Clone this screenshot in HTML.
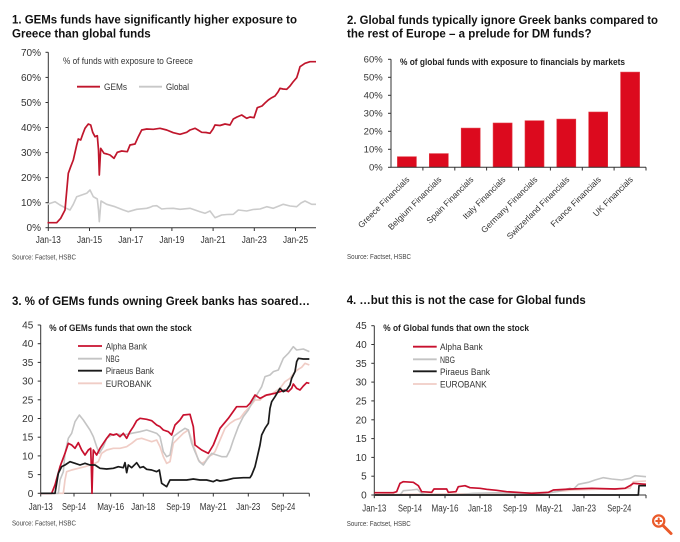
<!DOCTYPE html>
<html><head><meta charset="utf-8"><style>
html,body{margin:0;padding:0;background:#fff;}
svg{display:block;font-family:"Liberation Sans",Arial,sans-serif;}
</style></head><body>
<svg width="680" height="542" viewBox="0 0 680 542" xmlns="http://www.w3.org/2000/svg">
<rect width="680" height="542" fill="#fff"/>

<!-- ============ CHART 1 ============ -->
<g font-weight="bold" font-size="11.5" fill="#111">
<text x="12" y="23.3" textLength="285" lengthAdjust="spacingAndGlyphs">1. GEMs funds have significantly higher exposure to</text>
<text x="12" y="37.3" textLength="138.7" lengthAdjust="spacingAndGlyphs">Greece than global funds</text>
</g>
<g stroke="#333" stroke-width="1" fill="none">
<line x1="48.3" y1="52.3" x2="48.3" y2="228"/>
<line x1="48.3" y1="227.7" x2="316" y2="227.7"/>
<line x1="45.5" y1="52.3" x2="48.3" y2="52.3"/>
<line x1="45.5" y1="77.4" x2="48.3" y2="77.4"/>
<line x1="45.5" y1="102.5" x2="48.3" y2="102.5"/>
<line x1="45.5" y1="127.5" x2="48.3" y2="127.5"/>
<line x1="45.5" y1="152.6" x2="48.3" y2="152.6"/>
<line x1="45.5" y1="177.6" x2="48.3" y2="177.6"/>
<line x1="45.5" y1="202.7" x2="48.3" y2="202.7"/>
<line x1="45.5" y1="227.7" x2="48.3" y2="227.7"/>
<line x1="48.3" y1="227.7" x2="48.3" y2="231"/>
<line x1="89.5" y1="227.7" x2="89.5" y2="231"/>
<line x1="130.7" y1="227.7" x2="130.7" y2="231"/>
<line x1="171.9" y1="227.7" x2="171.9" y2="231"/>
<line x1="213.1" y1="227.7" x2="213.1" y2="231"/>
<line x1="254.3" y1="227.7" x2="254.3" y2="231"/>
<line x1="295.5" y1="227.7" x2="295.5" y2="231"/>
</g>
<g font-size="10" fill="#333" text-anchor="end">
<text x="41" y="55.8">70%</text>
<text x="41" y="80.9">60%</text>
<text x="41" y="106">50%</text>
<text x="41" y="131">40%</text>
<text x="41" y="156.1">30%</text>
<text x="41" y="181.1">20%</text>
<text x="41" y="206.2">10%</text>
<text x="41" y="231.2">0%</text>
</g>
<g font-size="10" fill="#333" text-anchor="middle">
<text x="48.3" y="242.8" textLength="25" lengthAdjust="spacingAndGlyphs">Jan-13</text>
<text x="89.5" y="242.8" textLength="25" lengthAdjust="spacingAndGlyphs">Jan-15</text>
<text x="130.7" y="242.8" textLength="25" lengthAdjust="spacingAndGlyphs">Jan-17</text>
<text x="171.9" y="242.8" textLength="25" lengthAdjust="spacingAndGlyphs">Jan-19</text>
<text x="213.1" y="242.8" textLength="25" lengthAdjust="spacingAndGlyphs">Jan-21</text>
<text x="254.3" y="242.8" textLength="25" lengthAdjust="spacingAndGlyphs">Jan-23</text>
<text x="295.5" y="242.8" textLength="25" lengthAdjust="spacingAndGlyphs">Jan-25</text>
</g>
<text x="63" y="64" font-size="9.5" fill="#333" textLength="130" lengthAdjust="spacingAndGlyphs">% of funds with exposure to Greece</text>
<line x1="77" y1="86.7" x2="100" y2="86.7" stroke="#c0162c" stroke-width="1.8"/>
<text x="104" y="90" font-size="9.5" fill="#333" textLength="23" lengthAdjust="spacingAndGlyphs">GEMs</text>
<line x1="139" y1="86.7" x2="162" y2="86.7" stroke="#c8c8c8" stroke-width="1.8"/>
<text x="166" y="90" font-size="9.5" fill="#333" textLength="23" lengthAdjust="spacingAndGlyphs">Global</text>
<polyline fill="none" stroke="#cbcbcb" stroke-width="1.6" stroke-linejoin="round" points="47.5,204.3 55,201.7 60,205 65,207.7 70,210 73.3,204.3 76.7,196.7 81.7,195 86.7,193.3 90,190 93.3,196.7 97.3,199 98.5,210 99.3,221.7 101,201 106.7,204.3 115,206.7 123.3,210 128.3,211.7 136.7,209.3 146.7,208.3 150,207.3 153,206 156.7,205.7 161.7,209 166.7,208.5 173.3,208.3 180,209.3 190,208.3 200,211.7 205,213.3 210,211 215,217.7 221.7,215 227,214.5 233.3,214.3 238.3,210 246.7,211 253,209.5 260,209 266.7,206.7 273.3,208.3 283.3,204.3 290,206 296.7,206.7 301,203 305,201 311.7,204.3 316,204.3"/>
<polyline fill="none" stroke="#c0162c" stroke-width="1.7" stroke-linejoin="round" points="47.5,222.7 56.7,222.7 60.7,218.3 65,210 68.3,173.3 70.7,166.7 73.3,160 76.7,145 78.3,139 80.7,140 82.7,134.3 85,128.3 88.3,124 90.7,125 92.7,132.3 95,136.7 97.3,135.7 98.5,150 99.3,175 100.7,148.3 104,153.3 107,154 110,155 114,158.3 117.3,152.3 121.7,151 127.3,151.7 130,145 135,144 138.3,136.7 141.7,130 146.7,129 153.3,129.3 160,128.3 166.7,130 173.3,132.7 180,134.3 186.7,132.3 190,130 195,128.3 198,130 201.7,132.3 206,132.5 210,133.3 213,129 215,125 220,125.5 225,124 230,125 233.3,119 237,117 241.7,115 246.7,118.3 250,117 254,117.7 257.3,107.7 262,106 265,103 268.3,100 271.7,97.7 275,96 278,92 280,88.3 283,89 286.7,89.3 290,86 293,82 296.7,77.7 298.5,72 300,66.7 305,63.3 310,61.7 316,61.7"/>
<text x="12" y="259.5" font-size="7" fill="#444" textLength="64" lengthAdjust="spacingAndGlyphs">Source: Factset, HSBC</text>

<!-- ============ CHART 2 ============ -->
<g font-weight="bold" font-size="11.5" fill="#111">
<text x="347" y="23.8" textLength="311" lengthAdjust="spacingAndGlyphs">2. Global funds typically ignore Greek banks compared to</text>
<text x="347" y="37.5" textLength="244.5" lengthAdjust="spacingAndGlyphs">the rest of Europe – a prelude for DM funds?</text>
</g>
<text x="400" y="65" font-size="9" font-weight="bold" fill="#222" textLength="225" lengthAdjust="spacingAndGlyphs">% of global funds with exposure to financials by markets</text>
<g fill="#dc0a1e" stroke="#e23a44" stroke-width="0.6">
<rect x="397.4" y="156.7" width="19" height="10.6"/>
<rect x="429.3" y="153.6" width="19" height="13.7"/>
<rect x="461.2" y="128.1" width="19" height="39.2"/>
<rect x="493.1" y="123" width="19" height="44.3"/>
<rect x="525" y="120.7" width="19" height="46.6"/>
<rect x="556.8" y="119.1" width="19" height="48.2"/>
<rect x="588.7" y="112" width="19" height="55.3"/>
<rect x="620.6" y="72.1" width="19" height="95.2"/>
</g>
<g stroke="#333" stroke-width="1" fill="none">
<line x1="391" y1="59.3" x2="391" y2="167.6"/>
<line x1="391" y1="167.3" x2="646" y2="167.3"/>
<line x1="388" y1="59.3" x2="391" y2="59.3"/>
<line x1="388" y1="77.3" x2="391" y2="77.3"/>
<line x1="388" y1="95.3" x2="391" y2="95.3"/>
<line x1="388" y1="113.3" x2="391" y2="113.3"/>
<line x1="388" y1="131.3" x2="391" y2="131.3"/>
<line x1="388" y1="149.3" x2="391" y2="149.3"/>
<line x1="388" y1="167.3" x2="391" y2="167.3"/>
<line x1="422.9" y1="167.3" x2="422.9" y2="170.5"/>
<line x1="454.8" y1="167.3" x2="454.8" y2="170.5"/>
<line x1="486.6" y1="167.3" x2="486.6" y2="170.5"/>
<line x1="518.5" y1="167.3" x2="518.5" y2="170.5"/>
<line x1="550.4" y1="167.3" x2="550.4" y2="170.5"/>
<line x1="582.3" y1="167.3" x2="582.3" y2="170.5"/>
<line x1="614.1" y1="167.3" x2="614.1" y2="170.5"/>
<line x1="646" y1="167.3" x2="646" y2="170.5"/>
</g>
<g font-size="9.5" fill="#333" text-anchor="end">
<text x="382.7" y="62.6">60%</text>
<text x="382.7" y="80.6">50%</text>
<text x="382.7" y="98.6">40%</text>
<text x="382.7" y="116.6">30%</text>
<text x="382.7" y="134.6">20%</text>
<text x="382.7" y="152.6">10%</text>
<text x="382.7" y="170.6">0%</text>
</g>
<g font-size="8.5" fill="#333" text-anchor="end">
<text transform="translate(410,180) rotate(-45)">Greece Financials</text>
<text transform="translate(442,180) rotate(-45)">Belgium Financials</text>
<text transform="translate(474,180) rotate(-45)">Spain Financials</text>
<text transform="translate(506,180) rotate(-45)">Italy Financials</text>
<text transform="translate(538,180) rotate(-45)">Germany Financials</text>
<text transform="translate(570,180) rotate(-45)">Switzerland Financials</text>
<text transform="translate(601.5,180) rotate(-45)">France Financials</text>
<text transform="translate(633.5,180) rotate(-45)">UK Financials</text>
</g>
<text x="347" y="259" font-size="7" fill="#444" textLength="64" lengthAdjust="spacingAndGlyphs">Source: Factset, HSBC</text>

<!-- ============ CHART 3 ============ -->
<text x="12" y="305" font-weight="bold" font-size="11.5" fill="#111" textLength="298" lengthAdjust="spacingAndGlyphs">3. % of GEMs funds owning Greek banks has soared…</text>
<text x="49.3" y="331" font-size="9" font-weight="bold" fill="#222" textLength="142.4" lengthAdjust="spacingAndGlyphs">% of GEMs funds that own the stock</text>
<g stroke-width="1.8">
<line x1="78" y1="346" x2="102" y2="346" stroke="#c8102e"/>
<line x1="78" y1="358.7" x2="102" y2="358.7" stroke="#c4c4c4"/>
<line x1="78" y1="370.7" x2="102" y2="370.7" stroke="#1a1a1a"/>
<line x1="78" y1="383.3" x2="102" y2="383.3" stroke="#f0cdc6"/>
</g>
<g font-size="9.5" fill="#333">
<text x="105.7" y="349.5" textLength="41.3" lengthAdjust="spacingAndGlyphs">Alpha Bank</text>
<text x="105.7" y="362.2" textLength="14" lengthAdjust="spacingAndGlyphs">NBG</text>
<text x="105.7" y="374.2" textLength="48.3" lengthAdjust="spacingAndGlyphs">Piraeus Bank</text>
<text x="105.7" y="386.8" textLength="46" lengthAdjust="spacingAndGlyphs">EUROBANK</text>
</g>
<g stroke="#333" stroke-width="1" fill="none">
<line x1="40.7" y1="325" x2="40.7" y2="493.6"/>
<line x1="40.7" y1="493.3" x2="309.3" y2="493.3"/>
<line x1="37.7" y1="325" x2="40.7" y2="325"/>
<line x1="37.7" y1="343.7" x2="40.7" y2="343.7"/>
<line x1="37.7" y1="362.4" x2="40.7" y2="362.4"/>
<line x1="37.7" y1="381.1" x2="40.7" y2="381.1"/>
<line x1="37.7" y1="399.8" x2="40.7" y2="399.8"/>
<line x1="37.7" y1="418.5" x2="40.7" y2="418.5"/>
<line x1="37.7" y1="437.2" x2="40.7" y2="437.2"/>
<line x1="37.7" y1="455.9" x2="40.7" y2="455.9"/>
<line x1="37.7" y1="474.6" x2="40.7" y2="474.6"/>
<line x1="37.7" y1="493.3" x2="40.7" y2="493.3"/>
<line x1="40.7" y1="493.3" x2="40.7" y2="496.5"/>
<line x1="74" y1="493.3" x2="74" y2="496.5"/>
<line x1="110.7" y1="493.3" x2="110.7" y2="496.5"/>
<line x1="143.3" y1="493.3" x2="143.3" y2="496.5"/>
<line x1="178.3" y1="493.3" x2="178.3" y2="496.5"/>
<line x1="213.3" y1="493.3" x2="213.3" y2="496.5"/>
<line x1="248.3" y1="493.3" x2="248.3" y2="496.5"/>
<line x1="283.3" y1="493.3" x2="283.3" y2="496.5"/>
<line x1="309.3" y1="493.3" x2="309.3" y2="496.5"/>
</g>
<g font-size="10" fill="#333" text-anchor="end">
<text x="33.3" y="328.5">45</text>
<text x="33.3" y="347.2">40</text>
<text x="33.3" y="365.9">35</text>
<text x="33.3" y="384.6">30</text>
<text x="33.3" y="403.3">25</text>
<text x="33.3" y="422">20</text>
<text x="33.3" y="440.7">15</text>
<text x="33.3" y="459.4">10</text>
<text x="33.3" y="478.1">5</text>
<text x="33.3" y="496.8">0</text>
</g>
<g font-size="10" fill="#333" text-anchor="middle">
<text x="40.7" y="510" textLength="24" lengthAdjust="spacingAndGlyphs">Jan-13</text>
<text x="74" y="510" textLength="24" lengthAdjust="spacingAndGlyphs">Sep-14</text>
<text x="110.7" y="510" textLength="27" lengthAdjust="spacingAndGlyphs">May-16</text>
<text x="143.3" y="510" textLength="24" lengthAdjust="spacingAndGlyphs">Jan-18</text>
<text x="178.3" y="510" textLength="24" lengthAdjust="spacingAndGlyphs">Sep-19</text>
<text x="213.3" y="510" textLength="27" lengthAdjust="spacingAndGlyphs">May-21</text>
<text x="248.3" y="510" textLength="24" lengthAdjust="spacingAndGlyphs">Jan-23</text>
<text x="283.3" y="510" textLength="24" lengthAdjust="spacingAndGlyphs">Sep-24</text>
</g>
<g transform="translate(0,280) scale(0.333333)" fill="none" stroke-linejoin="round">
<polyline vector-effect="non-scaling-stroke" stroke="#f0cdc6" stroke-width="1.7" points="122,640 190,640 195,600 200,575 215,570 235,565 255,560 270,555 285,550 295,545 305,520 320,510 340,505 360,505 380,500 395,490 410,478 425,475 440,480 455,485 470,480 480,500 490,530 500,550 510,545 520,490 535,475 550,460 565,450 575,480 585,510 595,540 605,550 615,545 625,530 635,525 645,515 660,480 675,445 690,430 705,420 720,415 735,395 750,380 765,360 780,360 795,345 810,345 825,335 840,325 855,305 870,295 885,275 895,268 905,262 915,250 928,255"/>
<polyline vector-effect="non-scaling-stroke" stroke="#c4c4c4" stroke-width="1.6" points="122,640 175,640 180,600 190,575 195,520 205,475 215,460 225,425 238,405 250,420 260,435 270,450 280,470 290,500 298,520 310,500 320,475 335,465 350,462 370,465 395,460 420,455 440,450 455,455 470,460 480,470 490,515 500,530 510,525 520,470 540,455 555,445 565,450 575,490 585,515 598,545 610,555 620,540 635,520 650,525 665,530 680,530 690,510 700,480 715,440 730,410 745,390 755,370 770,345 785,320 795,290 810,285 820,275 835,270 850,235 865,220 880,200 890,210 910,207 928,215"/>
<polyline vector-effect="non-scaling-stroke" stroke="#c8102e" stroke-width="1.7" points="122,640 155,640 165,615 180,560 195,520 205,490 215,495 225,505 235,488 245,510 255,525 265,510 272,505 274,560 276,640 278,560 280,510 290,525 300,505 310,490 320,475 330,462 340,465 350,462 360,470 370,460 380,475 390,455 400,440 410,422 420,415 440,418 455,422 470,435 480,440 490,450 505,455 515,465 525,435 540,420 550,405 570,403 580,440 585,495 605,510 625,520 640,495 660,445 685,415 710,380 740,380 750,370 765,345 780,355 800,345 825,340 840,335 855,330 865,335 875,325 880,312 890,325 900,330 910,318 920,308 928,310"/>
<polyline vector-effect="non-scaling-stroke" stroke="#1a1a1a" stroke-width="1.7" points="122,640 165,640 175,580 185,560 195,555 210,545 225,550 240,555 255,550 270,555 285,555 300,565 320,567 340,565 355,560 370,563 375,548 380,578 385,555 395,563 410,548 420,563 430,560 440,568 455,570 470,575 478,570 485,610 500,620 510,600 530,600 560,600 580,597 600,600 620,600 640,605 650,600 660,603 680,600 700,595 730,593 750,593 755,585 765,560 772,530 780,495 785,465 795,445 805,430 810,385 815,365 825,350 840,325 850,335 860,330 870,315 875,295 885,275 890,245 895,235 910,237 928,237"/>
</g>
<text x="12" y="525.5" font-size="7" fill="#444" textLength="64" lengthAdjust="spacingAndGlyphs">Source: Factset, HSBC</text>

<!-- ============ CHART 4 ============ -->
<text x="346.7" y="304" font-weight="bold" font-size="11.5" fill="#111" textLength="239" lengthAdjust="spacingAndGlyphs">4. …but this is not the case for Global funds</text>
<text x="383.3" y="331" font-size="9" font-weight="bold" fill="#222" textLength="145.7" lengthAdjust="spacingAndGlyphs">% of Global funds that own the stock</text>
<g stroke-width="1.8">
<line x1="413" y1="346.7" x2="436.7" y2="346.7" stroke="#c8102e"/>
<line x1="413" y1="359.3" x2="436.7" y2="359.3" stroke="#c4c4c4"/>
<line x1="413" y1="371.3" x2="436.7" y2="371.3" stroke="#1a1a1a"/>
<line x1="413" y1="384" x2="436.7" y2="384" stroke="#f0cdc6"/>
</g>
<g font-size="9.5" fill="#333">
<text x="440" y="350.2" textLength="42.7" lengthAdjust="spacingAndGlyphs">Alpha Bank</text>
<text x="440" y="362.8" textLength="15" lengthAdjust="spacingAndGlyphs">NBG</text>
<text x="440" y="374.8" textLength="50" lengthAdjust="spacingAndGlyphs">Piraeus Bank</text>
<text x="440" y="387.5" textLength="46.7" lengthAdjust="spacingAndGlyphs">EUROBANK</text>
</g>
<g stroke="#333" stroke-width="1" fill="none">
<line x1="374.3" y1="325.7" x2="374.3" y2="495.3"/>
<line x1="374.3" y1="495" x2="646" y2="495"/>
<line x1="371.3" y1="325.7" x2="374.3" y2="325.7"/>
<line x1="371.3" y1="344.5" x2="374.3" y2="344.5"/>
<line x1="371.3" y1="363.3" x2="374.3" y2="363.3"/>
<line x1="371.3" y1="382.1" x2="374.3" y2="382.1"/>
<line x1="371.3" y1="400.9" x2="374.3" y2="400.9"/>
<line x1="371.3" y1="419.8" x2="374.3" y2="419.8"/>
<line x1="371.3" y1="438.6" x2="374.3" y2="438.6"/>
<line x1="371.3" y1="457.4" x2="374.3" y2="457.4"/>
<line x1="371.3" y1="476.2" x2="374.3" y2="476.2"/>
<line x1="371.3" y1="495" x2="374.3" y2="495"/>
<line x1="374.3" y1="495" x2="374.3" y2="498.2"/>
<line x1="410" y1="495" x2="410" y2="498.2"/>
<line x1="445" y1="495" x2="445" y2="498.2"/>
<line x1="480" y1="495" x2="480" y2="498.2"/>
<line x1="515" y1="495" x2="515" y2="498.2"/>
<line x1="549.3" y1="495" x2="549.3" y2="498.2"/>
<line x1="584" y1="495" x2="584" y2="498.2"/>
<line x1="619.3" y1="495" x2="619.3" y2="498.2"/>
<line x1="646" y1="495" x2="646" y2="498.2"/>
</g>
<g font-size="10" fill="#333" text-anchor="end">
<text x="366.7" y="329.2">45</text>
<text x="366.7" y="348">40</text>
<text x="366.7" y="366.8">35</text>
<text x="366.7" y="385.6">30</text>
<text x="366.7" y="404.4">25</text>
<text x="366.7" y="423.3">20</text>
<text x="366.7" y="442.1">15</text>
<text x="366.7" y="460.9">10</text>
<text x="366.7" y="479.7">5</text>
<text x="366.7" y="498.5">0</text>
</g>
<g font-size="10" fill="#333" text-anchor="middle">
<text x="374.3" y="511.3" textLength="24" lengthAdjust="spacingAndGlyphs">Jan-13</text>
<text x="410" y="511.3" textLength="24" lengthAdjust="spacingAndGlyphs">Sep-14</text>
<text x="445" y="511.3" textLength="27" lengthAdjust="spacingAndGlyphs">May-16</text>
<text x="480" y="511.3" textLength="24" lengthAdjust="spacingAndGlyphs">Jan-18</text>
<text x="515" y="511.3" textLength="24" lengthAdjust="spacingAndGlyphs">Sep-19</text>
<text x="549.3" y="511.3" textLength="27" lengthAdjust="spacingAndGlyphs">May-21</text>
<text x="584" y="511.3" textLength="24" lengthAdjust="spacingAndGlyphs">Jan-23</text>
<text x="619.3" y="511.3" textLength="24" lengthAdjust="spacingAndGlyphs">Sep-24</text>
</g>
<g transform="translate(340,280) scale(0.333333)" fill="none" stroke-linejoin="round">
<polyline vector-effect="non-scaling-stroke" stroke="#f0cdc6" stroke-width="1.6" points="103,644 400,641 500,640 640,636 700,630 870,625 880,605 918,603"/>
<polyline vector-effect="non-scaling-stroke" stroke="#c4c4c4" stroke-width="1.6" points="103,645 180,645 190,632 215,630 232,628 245,640 260,645 350,645 400,640 480,638 550,640 600,642 650,635 690,625 700,628 715,613 745,607 765,600 790,593 815,597 845,600 870,595 885,587 918,590"/>
<polyline vector-effect="non-scaling-stroke" stroke="#c8102e" stroke-width="1.7" points="103,638 160,638 170,635 180,610 190,605 220,607 235,617 245,635 275,637 282,627 320,627 325,637 348,635 355,620 375,617 390,623 420,625 440,628 470,631 500,635 575,640 625,637 640,630 695,627 755,625 825,627 855,625 870,617 880,610 918,613"/>
<polyline vector-effect="non-scaling-stroke" stroke="#1a1a1a" stroke-width="1.7" points="103,645 895,645 897,617 918,617"/>
</g>
<text x="346.7" y="525.8" font-size="7" fill="#444" textLength="64" lengthAdjust="spacingAndGlyphs">Source: Factset, HSBC</text>

<!-- zoom icon -->
<g stroke="#ea5a2a" fill="none" stroke-linecap="round">
<circle cx="658.7" cy="521" r="5.6" stroke-width="2.2"/>
<line x1="663" y1="525.5" x2="671" y2="533.5" stroke-width="3"/>
<line x1="656.2" y1="521" x2="661.2" y2="521" stroke-width="2"/>
<line x1="658.7" y1="518.5" x2="658.7" y2="523.5" stroke-width="2"/>
</g>
</svg>
</body></html>
